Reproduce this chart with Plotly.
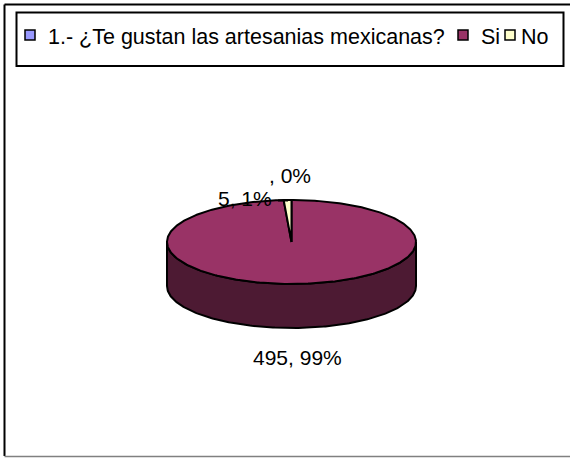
import numpy as np
import plotly.graph_objects as go

# ---- data ----
categories = ["1.- ¿Te gustan las artesanias mexicanas?", "Si", "No"]
values = [0, 495, 5]
top_colors = ["#9999FF", "#993366", "#FFFFCC"]
side_colors = ["#4D4D80", "#4D1A33", "#808066"]

# ---- geometry (pixel space) ----
W, H = 570, 458
cx, cy, rx, ry, depth = 291.5, 242.0, 124.5, 42.0, 44.0
FONT = "Liberation Sans, Arial, sans-serif"

total = sum(values)
fracs = [v / total for v in values]
starts = np.cumsum([0] + fracs[:-1]) * 2 * np.pi
ends = starts + np.array(fracs) * 2 * np.pi


def ell(theta, dy=0.0):
    return cx + rx * np.sin(theta), cy - ry * np.cos(theta) + dy


fig = go.Figure()

# side walls (front half only)
for i, (a0, a1) in enumerate(zip(starts, ends)):
    lo, hi = max(a0, np.pi / 2), min(a1, 3 * np.pi / 2)
    if hi <= lo:
        continue
    t = np.linspace(lo, hi, 200)
    xt, yt = ell(t)
    xb, yb = ell(t[::-1], depth)
    fig.add_trace(go.Scatter(
        x=np.concatenate([xt, xb, xt[:1]]), y=np.concatenate([yt, yb, yt[:1]]),
        mode="lines", fill="toself", fillcolor=side_colors[i],
        line=dict(color="black", width=2), hoverinfo="skip", showlegend=False))

# top faces
for i, (a0, a1) in enumerate(zip(starts, ends)):
    if a1 - a0 <= 0:
        continue
    t = np.linspace(a0, a1, max(4, int(400 * (a1 - a0) / (2 * np.pi))))
    xs, ys = ell(t)
    fig.add_trace(go.Scatter(
        x=np.concatenate([[cx], xs, [cx]]), y=np.concatenate([[cy], ys, [cy]]),
        mode="lines", fill="toself", fillcolor=top_colors[i],
        line=dict(color="black", width=2), hoverinfo="skip", showlegend=False))

# data labels
label_pos = [(290, 175), (297, 357), (245, 198)]
for i, v in enumerate(values):
    pct = round(100 * v / total)
    txt = f"{v if v else ''}, {pct}%"
    fig.add_annotation(x=label_pos[i][0], y=label_pos[i][1], text=txt,
                       showarrow=False, font=dict(size=21, color="black", family=FONT),
                       xanchor="center", yanchor="middle")

# leader dash
fig.add_shape(type="line", x0=278, x1=288, y0=200.5, y1=200.5,
              line=dict(color="black", width=2))

# legend (manual, Excel style)
fig.add_shape(type="rect", x0=16.5, x1=563.5, y0=12.5, y1=66,
              line=dict(color="black", width=2), fillcolor="white", layer="below")
sym_x = [25, 458, 505]
txt_x = [45.5, 478.5, 518.5]
for i, name in enumerate(categories):
    fig.add_shape(type="rect", x0=sym_x[i], x1=sym_x[i] + 10, y0=30, y1=40,
                  line=dict(color="black", width=1.5), fillcolor=top_colors[i])
    fig.add_annotation(x=txt_x[i], y=37, text=name, showarrow=False,
                       font=dict(size=21.5, color="black", family=FONT),
                       xanchor="left", yanchor="middle")

# chart border
fig.add_shape(type="line", x0=4.5, x1=4.5, y0=4.5, y1=456, line=dict(color="black", width=2))
fig.add_shape(type="line", x0=4.5, x1=575, y0=4.5, y1=4.5, line=dict(color="black", width=2))
fig.add_shape(type="line", x0=4.5, x1=575, y0=456.5, y1=456.5, line=dict(color="#808080", width=1.5))

fig.update_layout(
    width=W, height=H, margin=dict(l=0, r=0, t=0, b=0),
    paper_bgcolor="white", plot_bgcolor="white",
    xaxis=dict(range=[0, W], visible=False, fixedrange=True),
    yaxis=dict(range=[H, 0], visible=False, fixedrange=True),
    showlegend=False,
)

fig.write_html("out.html")
